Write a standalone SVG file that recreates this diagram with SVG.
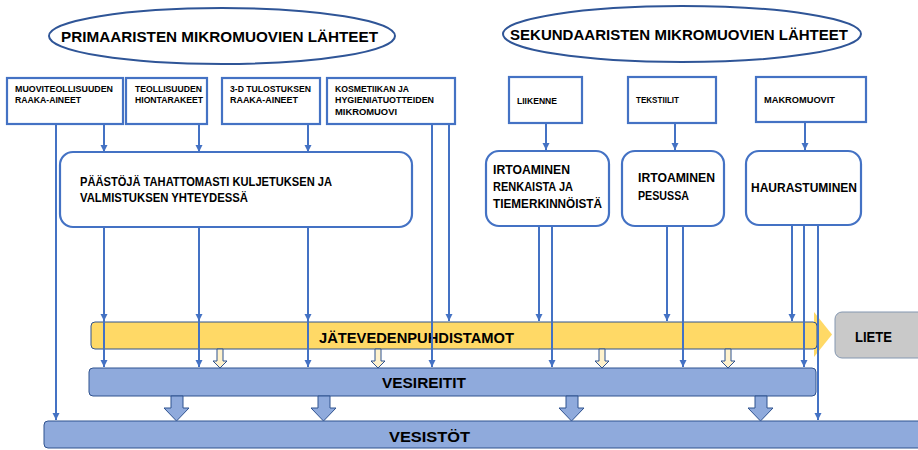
<svg xmlns="http://www.w3.org/2000/svg" width="918" height="450" viewBox="0 0 918 450">
<defs>
<style>
text{font-family:"Liberation Sans",Arial,sans-serif;font-weight:bold;fill:#000}
.ell{fill:#fff;stroke:#2F5597;stroke-width:2}
.box{fill:#fff;stroke:#4472C4;stroke-width:2.2}
.rbox{fill:#fff;stroke:#4472C4;stroke-width:2.2}
.t9{font-size:9.5px}
.t12{font-size:12.5px}
.t15{font-size:15px}
.c{stroke:#4472C4;stroke-width:2;fill:none;marker-end:url(#ah)}
.n{stroke:#4472C4;stroke-width:2;fill:none}
.yel{fill:#FFD966;stroke:#2F528F;stroke-width:1}
.blu{fill:#8FAADC;stroke:#2F528F;stroke-width:1}
.cream{fill:#FFF2CC;stroke:#2F528F;stroke-width:1}
</style>
<marker id="ah" markerUnits="userSpaceOnUse" markerWidth="8" markerHeight="8" refX="7" refY="3.5" orient="auto">
<path d="M0,0 L7,3.5 L0,7 z" fill="#4472C4"/>
</marker>
</defs>
<rect width="918" height="450" fill="#fff"/>

<g id="primary-title">
<ellipse class="ell" cx="222" cy="36" rx="173" ry="28"/>
<text class="t15" x="61" y="42" textLength="317" lengthAdjust="spacingAndGlyphs">PRIMAARISTEN MIKROMUOVIEN LÄHTEET</text>
</g>
<g id="secondary-title">
<ellipse class="ell" cx="682" cy="34" rx="179" ry="28"/>
<text class="t15" x="510" y="40" textLength="338" lengthAdjust="spacingAndGlyphs">SEKUNDAARISTEN MIKROMUOVIEN LÄHTEET</text>
</g>

<g id="muoviteollisuus">
<rect class="box" x="7" y="78" width="116" height="46"/>
<text class="t9" x="15" y="92" textLength="98" lengthAdjust="spacingAndGlyphs">MUOVITEOLLISUUDEN</text>
<text class="t9" x="15" y="103" textLength="66" lengthAdjust="spacingAndGlyphs">RAAKA-AINEET</text>
</g>
<g id="hiontarakeet">
<rect class="box" x="126" y="78" width="81" height="46"/>
<text class="t9" x="135" y="92" textLength="67" lengthAdjust="spacingAndGlyphs">TEOLLISUUDEN</text>
<text class="t9" x="135" y="103" textLength="68" lengthAdjust="spacingAndGlyphs">HIONTARAKEET</text>
</g>
<g id="tulostus">
<rect class="box" x="222" y="78" width="98" height="46"/>
<text class="t9" x="230" y="92" textLength="81" lengthAdjust="spacingAndGlyphs">3-D TULOSTUKSEN</text>
<text class="t9" x="230" y="103" textLength="68" lengthAdjust="spacingAndGlyphs">RAAKA-AINEET</text>
</g>
<g id="kosmetiikka">
<rect class="box" x="327" y="78" width="128" height="46"/>
<text class="t9" x="335" y="92" textLength="74" lengthAdjust="spacingAndGlyphs">KOSMETIIKAN JA</text>
<text class="t9" x="335" y="103" textLength="99" lengthAdjust="spacingAndGlyphs">HYGIENIATUOTTEIDEN</text>
<text class="t9" x="335" y="115" textLength="62" lengthAdjust="spacingAndGlyphs">MIKROMUOVI</text>
</g>
<g id="liikenne">
<rect class="box" x="509" y="77" width="73" height="46"/>
<text class="t9" x="517" y="104" textLength="40" lengthAdjust="spacingAndGlyphs">LIIKENNE</text>
</g>
<g id="tekstiilit">
<rect class="box" x="628" y="77" width="88" height="46"/>
<text class="t9" x="636" y="103" textLength="43" lengthAdjust="spacingAndGlyphs">TEKSTIILIT</text>
</g>
<g id="makromuovit">
<rect class="box" x="756" y="77" width="110" height="45"/>
<text class="t9" x="764" y="103" textLength="71" lengthAdjust="spacingAndGlyphs">MAKROMUOVIT</text>
</g>

<g id="paastot">
<rect class="rbox" x="60" y="152" width="352" height="75" rx="13"/>
<text class="t12" x="80" y="186" textLength="252" lengthAdjust="spacingAndGlyphs">PÄÄSTÖJÄ TAHATTOMASTI KULJETUKSEN JA</text>
<text class="t12" x="80" y="202" textLength="168" lengthAdjust="spacingAndGlyphs">VALMISTUKSEN YHTEYDESSÄ</text>
</g>
<g id="renkaat">
<rect class="rbox" x="486" y="151" width="123" height="75" rx="13"/>
<text class="t12" x="493" y="174" textLength="77" lengthAdjust="spacingAndGlyphs">IRTOAMINEN</text>
<text class="t12" x="493" y="191" textLength="80" lengthAdjust="spacingAndGlyphs">RENKAISTA JA</text>
<text class="t12" x="493" y="208" textLength="109" lengthAdjust="spacingAndGlyphs">TIEMERKINNÖISTÄ</text>
</g>
<g id="pesu">
<rect class="rbox" x="622" y="151" width="102" height="75" rx="13"/>
<text class="t12" x="638" y="182" textLength="77" lengthAdjust="spacingAndGlyphs">IRTOAMINEN</text>
<text class="t12" x="638" y="200" textLength="51" lengthAdjust="spacingAndGlyphs">PESUSSA</text>
</g>
<g id="haurastuminen">
<rect class="rbox" x="746" y="151" width="115" height="74" rx="13"/>
<text class="t12" x="751" y="192" textLength="106" lengthAdjust="spacingAndGlyphs">HAURASTUMINEN</text>
</g>

<g id="vesistot">
<rect class="blu" x="44" y="421" width="884" height="27" rx="4"/>
<text x="389" y="442" font-size="14.5" textLength="81" lengthAdjust="spacingAndGlyphs">VESISTÖT</text>
</g>
<g id="vesireitit">
<rect class="blu" x="89" y="368" width="727" height="28" rx="4"/>
<text x="382" y="388" font-size="14.5" textLength="84" lengthAdjust="spacingAndGlyphs">VESIREITIT</text>
</g>
<g id="jatevedenpuhdistamot">
<polygon points="814,312 832,334.5 814,357" fill="#FFD966"/>
<rect class="yel" x="91" y="322" width="726" height="27" rx="4"/>
<text x="319" y="343" font-size="14.5" textLength="195" lengthAdjust="spacingAndGlyphs">JÄTEVEDENPUHDISTAMOT</text>
</g>
<g id="liete">
<rect x="835" y="312" width="100" height="46" rx="7" fill="#C9C9C9" stroke="#8497B0" stroke-width="1"/>
<text x="855" y="342" font-size="14" textLength="37" lengthAdjust="spacingAndGlyphs">LIETE</text>
</g>

<g id="flows">
<path class="cream" d="M217,349 h6 v12 h4 l-7,7 l-7,-7 h4 z"/>
<path class="cream" d="M375,349 h6 v12 h4 l-7,7 l-7,-7 h4 z"/>
<path class="cream" d="M599,349 h6 v12 h4 l-7,7 l-7,-7 h4 z"/>
<path class="cream" d="M725,349 h6 v12 h4 l-7,7 l-7,-7 h4 z"/>
<path class="blu" d="M171,396 h12 v12 h6 l-12.5,13 l-12.5,-13 h7 z"/>
<path class="blu" d="M318,396 h12 v12 h6 l-12.5,13 l-12.5,-13 h7 z"/>
<path class="blu" d="M566,396 h12 v12 h6 l-12.5,13 l-12.5,-13 h7 z"/>
<path class="blu" d="M755,396 h12 v12 h6 l-12.5,13 l-12.5,-13 h7 z"/>
</g>

<g id="connectors">
<line class="c" x1="104" y1="125" x2="104" y2="152"/>
<line class="c" x1="199" y1="125" x2="199" y2="152"/>
<line class="c" x1="308" y1="125" x2="308" y2="152"/>
<line class="c" x1="56" y1="125" x2="56" y2="420"/>
<line class="c" x1="432" y1="125" x2="432" y2="367"/>
<line class="c" x1="449" y1="125" x2="449" y2="321"/>
<line class="c" x1="104" y1="228" x2="104" y2="321"/>
<line class="c" x1="104" y1="228" x2="104" y2="367"/>
<line class="c" x1="199" y1="228" x2="199" y2="321"/>
<line class="c" x1="199" y1="228" x2="199" y2="367"/>
<line class="c" x1="308" y1="228" x2="308" y2="321"/>
<line class="c" x1="308" y1="228" x2="308" y2="367"/>
<line class="c" x1="546" y1="124" x2="546" y2="150"/>
<line class="c" x1="675" y1="124" x2="675" y2="150"/>
<line class="c" x1="805" y1="123" x2="805" y2="150"/>
<line class="c" x1="539" y1="227" x2="539" y2="321"/>
<line class="c" x1="552" y1="227" x2="552" y2="367"/>
<line class="c" x1="667" y1="227" x2="667" y2="321"/>
<line class="c" x1="683" y1="227" x2="683" y2="367"/>
<line class="c" x1="792" y1="226" x2="792" y2="321"/>
<line class="c" x1="804" y1="226" x2="804" y2="367"/>
<line class="c" x1="818" y1="226" x2="818" y2="420"/>
</g>
</svg>
